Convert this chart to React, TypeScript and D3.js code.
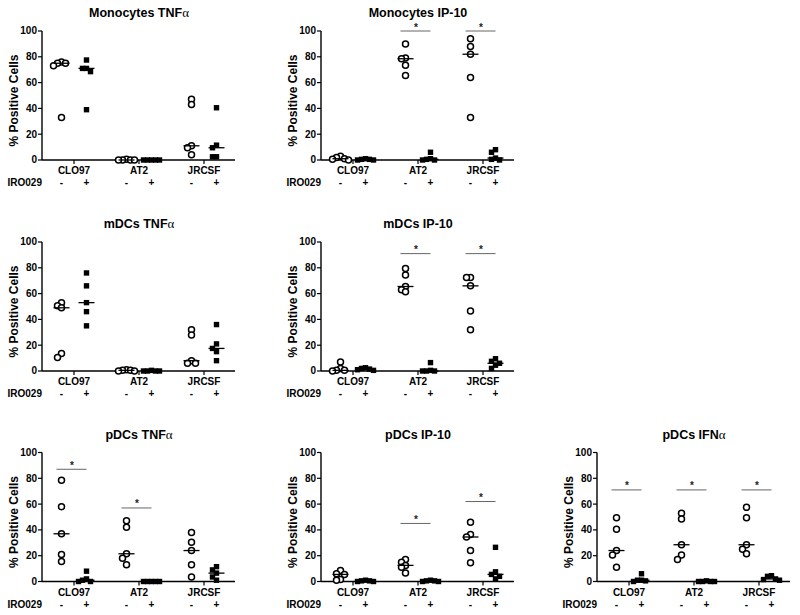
import React from 'react';
import * as d3 from 'd3';

const categories = ['CLO97', 'AT2', 'JRCSF'];
const treatments = ['-', '+'];
const yTicks = [0, 20, 40, 60, 80, 100];
const treatLabel = 'IRO029';
const yLabel = '% Positive Cells';

// values per category (CLO97, AT2, JRCSF); "neg" = IRO029 -, "pos" = IRO029 +
const monoTNFneg = [[76, 75, 75, 73, 33], [0.5, 0, 0, 0, 0], [47, 43, 11, 9.5, 4]];
const monoTNFpos = [[77.5, 71, 71, 68.5, 39], [0, 0, 0, 0, 0], [40.5, 11.5, 9.5, 2.5, 2.5]];
const monoTNFstars = [null, null, null];

const monoIPneg = [[3, 2, 1, 0.5, 0], [90, 79, 78.5, 73.5, 65.5], [94, 88, 82, 64, 33]];
const monoIPpos = [[1, 0.5, 0.5, 0, 0], [6, 1, 0.5, 0, 0], [8, 6, 1.5, 0.5, 0]];
const monoIPstars = [null, 100, 100];

const mdcTNFneg = [[53, 50.5, 49, 13.5, 10.5], [1, 0.5, 0.5, 0, 0], [32, 28, 8, 6, 6]];
const mdcTNFpos = [[76, 66, 53, 46, 35], [0.5, 0, 0, 0, 0], [36, 21, 17.5, 15, 8]];
const mdcTNFstars = [null, null, null];

const mdcIPneg = [[7, 2, 0.5, 0.5, 0], [79.5, 74.5, 65.5, 63, 61.5], [72.5, 72.5, 66, 46.5, 32]];
const mdcIPpos = [[2.5, 2, 1.5, 1, 0.5], [6.5, 0.5, 0, 0, 0], [9.5, 7.5, 6, 4.5, 2]];
const mdcIPstars = [null, 91, 91];

const pdcTNFneg = [[78.5, 58, 37, 21, 15.5], [47, 42, 21.5, 18, 13], [38, 30.5, 24, 13, 3.5]];
const pdcTNFpos = [[8, 2, 1, 0, 0], [0, 0, 0, 0, 0], [11.5, 9, 6.5, 3.5, 1]];
const pdcTNFstars = [87, 57, null];

const pdcIPneg = [[8.5, 6, 5.5, 1.5, 1], [17, 15, 12.5, 11, 6.5], [46, 36.5, 34.5, 24, 14.5]];
const pdcIPpos = [[1, 0.5, 0.5, 0, 0], [1, 0.5, 0.5, 0, 0], [26.5, 7.5, 5.5, 4, 2]];
const pdcIPstars = [null, 45, 62];

const pdcIFNneg = [[49.5, 40.5, 24, 20.5, 11], [53, 48.5, 28.5, 20.5, 17], [57.5, 49.5, 28.5, 25, 21.5]];
const pdcIFNpos = [[6, 1, 1, 0.5, 0], [0.5, 0, 0, 0, 0], [4.5, 4, 2, 1.5, 1]];
const pdcIFNstars = [71, 71, 71];

const panels = [
  { title: 'Monocytes TNFα', neg: monoTNFneg, pos: monoTNFpos, stars: monoTNFstars, col: 0, row: 0 },
  { title: 'Monocytes IP-10', neg: monoIPneg, pos: monoIPpos, stars: monoIPstars, col: 1, row: 0 },
  { title: 'mDCs TNFα', neg: mdcTNFneg, pos: mdcTNFpos, stars: mdcTNFstars, col: 0, row: 1 },
  { title: 'mDCs IP-10', neg: mdcIPneg, pos: mdcIPpos, stars: mdcIPstars, col: 1, row: 1 },
  { title: 'pDCs TNFα', neg: pdcTNFneg, pos: pdcTNFpos, stars: pdcTNFstars, col: 0, row: 2 },
  { title: 'pDCs IP-10', neg: pdcIPneg, pos: pdcIPpos, stars: pdcIPstars, col: 1, row: 2 },
  { title: 'pDCs IFNα', neg: pdcIFNneg, pos: pdcIFNpos, stars: pdcIFNstars, col: 2, row: 2 },
];

const COL_X = [42, 321, 597];
const ROW_Y = [31, 242, 452.5];
const PLOT_H = 129;
const AXIS_W = 193;
const FONT = '"Liberation Sans", Arial, Helvetica, sans-serif';
const STEP = 4;

function swarm(values: number[], cx: number, y: (v: number) => number) {
  const placed: { x: number; y: number; v: number }[] = [];
  const sorted = [...values].sort((a, b) => b - a);
  for (const v of sorted) {
    const py = y(v);
    let off = 0;
    for (let k = 0; k < 30; k++) {
      const cand = k === 0 ? 0 : (k % 2 ? -1 : 1) * Math.ceil(k / 2) * STEP;
      const hit = placed.some(q => Math.abs(q.y - py) < 5 && Math.abs(q.x - (cx + cand)) < 3.5);
      if (!hit) { off = cand; break; }
    }
    placed.push({ x: cx + off, y: py, v });
  }
  return placed;
}

function Title({ text, x, y }: { text: string; x: number; y: number }) {
  const parts = text.split('α');
  return (
    <text x={x} y={y} textAnchor="middle" fontFamily={FONT} fontWeight="bold" fontSize={12.5} fill="#000">
      {parts[0]}
      {parts.length > 1 && (
        <tspan fontFamily='"Liberation Serif", "DejaVu Serif", serif' fontWeight="normal" fontSize={13}>α</tspan>
      )}
    </text>
  );
}

function Panel({ p }: { p: any }) {
  const x0 = COL_X[p.col];
  const yTop = ROW_Y[p.row];
  const yBot = yTop + PLOT_H;
  const y = d3.scaleLinear().domain([0, 100]).range([yBot, yTop]);
  const xc = d3.scalePoint<string>().domain(categories).range([x0 + 32, x0 + 162]);
  const xt = d3.scalePoint<string>().domain(treatments).range([-12.5, 12.5]);
  const cy = (yTop + yBot) / 2 + 5;

  return (
    <g>
      <Title text={p.title} x={xc('AT2')!} y={yTop - 14} />
      {/* y axis */}
      <line x1={x0} x2={x0} y1={yTop} y2={yBot} stroke="#000" strokeWidth={1.4} />
      {yTicks.map(t => (
        <g key={t}>
          <line x1={x0 - 4} x2={x0} y1={y(t)} y2={y(t)} stroke="#000" strokeWidth={1.2} />
          <text x={x0 - 5} y={y(t) + 3.4} textAnchor="end" fontFamily={FONT} fontWeight="bold" fontSize={10}>{t}</text>
        </g>
      ))}
      <text transform={`translate(${x0 - 24},${cy}) rotate(-90)`} textAnchor="middle" fontFamily={FONT} fontWeight="bold" fontSize={12}>{yLabel}</text>
      {/* x axis */}
      <line x1={x0} x2={x0 + AXIS_W} y1={yBot} y2={yBot} stroke="#000" strokeWidth={1.4} />
      {categories.map(c => (
        <g key={c}>
          <line x1={xc(c)!} x2={xc(c)!} y1={yBot} y2={yBot + 4} stroke="#000" strokeWidth={1.2} />
          <text x={xc(c)!} y={yBot + 14} textAnchor="middle" fontFamily={FONT} fontWeight="bold" fontSize={10}>{c}</text>
          {treatments.map(t => (
            <text key={t} x={xc(c)! + xt(t)!} y={yBot + 26} textAnchor="middle" fontFamily={FONT} fontWeight="bold" fontSize={10}>{t}</text>
          ))}
        </g>
      ))}
      <text x={x0} y={yBot + 26} textAnchor="end" fontFamily={FONT} fontWeight="bold" fontSize={10}>{treatLabel}</text>
      {/* significance bars */}
      {categories.map((c, i) => p.stars[i] == null ? null : (
        <g key={'s' + c}>
          <line x1={xc(c)! + xt('-')! - 5} x2={xc(c)! + xt('+')!} y1={y(p.stars[i])} y2={y(p.stars[i])} stroke="#666" strokeWidth={1} />
          <text x={xc(c)! - 2} y={y(p.stars[i]) - 0.5} textAnchor="middle" fontFamily={FONT} fontWeight="bold" fontSize={10} fill="#222">*</text>
        </g>
      ))}
      {/* points */}
      {categories.map((c, i) => {
        const cxN = xc(c)! + xt('-')!;
        const cxP = xc(c)! + xt('+')!;
        const ptsN = swarm(p.neg[i], cxN, y);
        const ptsP = swarm(p.pos[i], cxP, y);
        const mN = d3.median(p.neg[i] as number[])!;
        const mP = d3.median(p.pos[i] as number[])!;
        return (
          <g key={'p' + c}>
            {ptsN.map((q, j) => (
              <circle key={'n' + j} cx={q.x} cy={q.y} r={3} fill="#fff" stroke="#000" strokeWidth={1.5} />
            ))}
            {ptsP.map((q, j) => (
              <rect key={'q' + j} x={q.x - 2.7} y={q.y - 2.7} width={5.4} height={5.4} fill="#000" />
            ))}
            <line x1={cxN - 8} x2={cxN + 8} y1={y(mN)} y2={y(mN)} stroke="#000" strokeWidth={1.3} />
            <line x1={cxP - 8} x2={cxP + 8} y1={y(mP)} y2={y(mP)} stroke="#000" strokeWidth={1.3} />
          </g>
        );
      })}
    </g>
  );
}

export default function App() {
  return (
    <svg width={800} height={615} style={{ position: 'absolute', left: 0, top: 0, background: '#fff' }}>
      <rect x={0} y={0} width={800} height={615} fill="#fff" />
      {panels.map((p, i) => <Panel key={i} p={p} />)}
    </svg>
  );
}
